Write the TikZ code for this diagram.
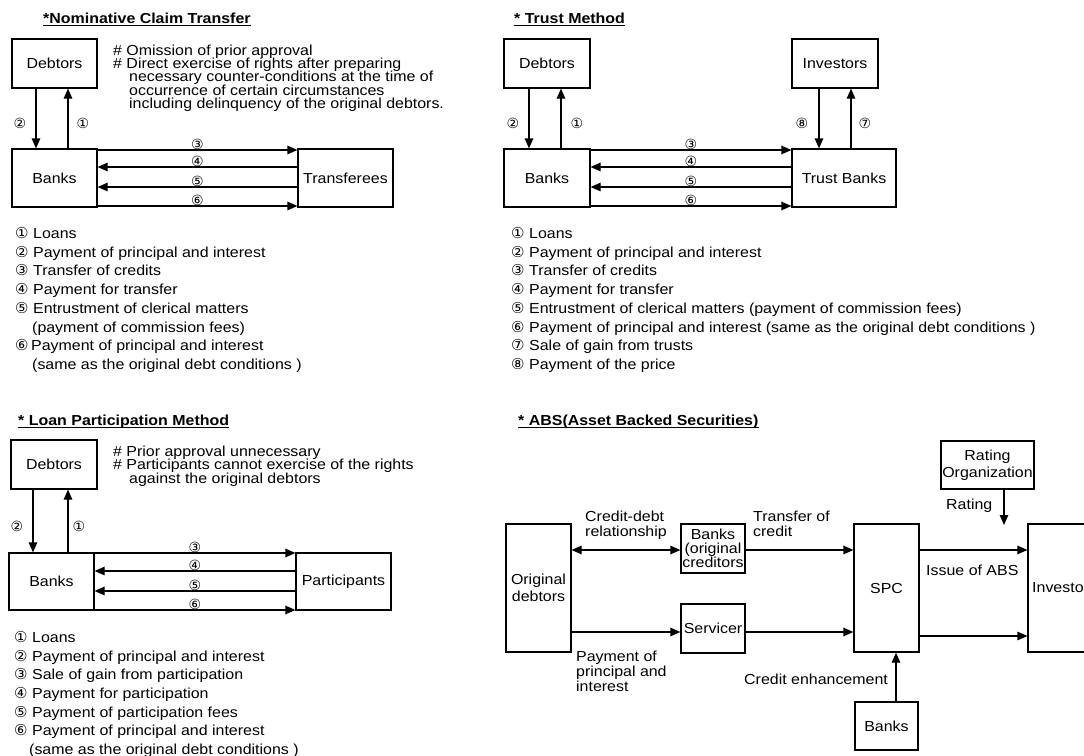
\documentclass[tikz,border=0pt]{standalone}
\usepackage{fontspec}
\setmainfont[FakeStretch=1.1]{Liberation Sans}
\newfontfamily\cnum{DejaVu Sans}
\usetikzlibrary{arrows.meta}
\newcommand\lf{\fontsize{14.5}{17}\selectfont}
\newcommand\legl[6]{\node[ln] (#1n) at (#2,#4) {#5}; \node[txt] (#1t) at (#3,#4) {#6};}
\begin{document}
\begin{tikzpicture}[x=1pt,y=-1pt,
  box/.style={draw, line width=1.2pt, inner sep=0pt, align=center, font=\lf},
  txt/.style={inner sep=0pt, anchor=base west, font=\lf},
  ttl/.style={inner sep=0pt, anchor=base west, font=\lf\bfseries},
  ul/.style={line width=1.3pt},
  arr/.style={line width=1.2pt, -{Triangle[length=10pt,width=8.5pt]}},
  darr/.style={line width=1.2pt, {Triangle[length=10pt,width=8.5pt]}-{Triangle[length=10pt,width=8.5pt]}},
  an/.style={inner sep=0pt, font=\cnum\fontsize{14}{14}\selectfont},
  ln/.style={inner sep=0pt, anchor=base west, font=\cnum\fontsize{15}{15}\selectfont}]
\useasboundingbox (0,0) rectangle (1084,755);
\clip (0,0) rectangle (1084,755);
\fill[white] (0,0) rectangle (1084,755);

% ================= Top-left: Nominative Claim Transfer
\node[ttl] (t1) at (43,23) {*Nominative Claim Transfer\ };
\draw[ul] ([yshift=-2.2pt]t1.base west) -- ([yshift=-2.2pt]t1.base east);
\node[box, minimum width=85pt, minimum height=49pt] (d1) at (54.5,63.5) {Debtors};
\node[box, minimum width=85pt, minimum height=58pt] (b1) at (54.5,178) {Banks};
\node[box, minimum width=95pt, minimum height=58pt] (tr1) at (345.5,178) {Transferees};
\node[txt] (n1a) at (113,55) {\# Omission of prior approval};
\node[txt] (n1b) at (113,68.3) {\# Direct exercise of rights after preparing};
\node[txt] (n1c) at (129,81.6) {necessary counter-conditions at the time of};
\node[txt] (n1d) at (129,95) {occurrence of certain circumstances};
\node[txt] (n1e) at (129,108.3) {including delinquency of the original debtors.};
\draw[arr] ([xshift=-18.5pt]d1.south) -- ([xshift=-18.5pt]d1.south |- b1.north);
\draw[arr] ([xshift=13.5pt]b1.north) -- ([xshift=13.5pt]b1.north |- d1.south);
\node[an] (l1b) at (20,123) {②};
\node[an] (l1a) at (83,123) {①};
\draw[arr] ([yshift=28pt]b1.east) -- ([yshift=28pt]b1.east -| tr1.west) node[an, midway, yshift=6pt] (l1c) {③};
\draw[arr] ([yshift=11pt]tr1.west) -- ([yshift=11pt]tr1.west -| b1.east) node[an, midway, yshift=6pt] (l1d) {④};
\draw[arr] ([yshift=-9pt]tr1.west) -- ([yshift=-9pt]tr1.west -| b1.east) node[an, midway, yshift=6pt] (l1e) {⑤};
\draw[arr] ([yshift=-28pt]b1.east) -- ([yshift=-28pt]b1.east -| tr1.west) node[an, midway, yshift=6pt] (l1f) {⑥};
\legl{la1}{15}{33}{238}{①}{Loans}
\legl{la2}{15}{33}{257}{②}{Payment of principal and interest}
\legl{la3}{15}{33}{275}{③}{Transfer of credits}
\legl{la4}{15}{33}{294}{④}{Payment for transfer}
\legl{la5}{15}{33}{313}{⑤}{Entrustment of clerical matters}
\node[txt] (la5b) at (32,332) {(payment of commission fees)};
\legl{la6}{15}{31}{350}{⑥}{Payment of principal and interest}
\node[txt] (la6b) at (32,369) {(same as the original debt conditions )};

% ================= Top-right: Trust Method
\node[ttl] (t2) at (514,23) {* Trust Method};
\draw[ul] ([yshift=-2.2pt]t2.base west) -- ([yshift=-2.2pt]t2.base east);
\node[box, minimum width=86pt, minimum height=49pt] (d2) at (547,63.5) {Debtors};
\node[box, minimum width=86pt, minimum height=58pt] (b2) at (547,178) {Banks};
\node[box, minimum width=86pt, minimum height=49pt] (i2) at (835,63.5) {Investors};
\node[box, minimum width=104pt, minimum height=58pt] (tb2) at (844,178) {Trust Banks};
\draw[arr] ([xshift=-18pt]d2.south) -- ([xshift=-18pt]d2.south |- b2.north);
\draw[arr] ([xshift=14pt]b2.north) -- ([xshift=14pt]b2.north |- d2.south);
\node[an] (l2b) at (513,123) {②};
\node[an] (l2a) at (577,123) {①};
\draw[arr] ([xshift=-16pt]i2.south) -- ([xshift=-16pt]i2.south |- tb2.north);
\draw[arr] ([xshift=7pt]tb2.north) -- ([xshift=7pt]tb2.north |- i2.south);
\node[an] (l2h) at (802,123) {⑧};
\node[an] (l2g) at (865,123) {⑦};
\draw[arr] ([yshift=28pt]b2.east) -- ([yshift=28pt]b2.east -| tb2.west) node[an, midway, yshift=6pt] (l2c) {③};
\draw[arr] ([yshift=11pt]tb2.west) -- ([yshift=11pt]tb2.west -| b2.east) node[an, midway, yshift=6pt] (l2d) {④};
\draw[arr] ([yshift=-9pt]tb2.west) -- ([yshift=-9pt]tb2.west -| b2.east) node[an, midway, yshift=6pt] (l2e) {⑤};
\draw[arr] ([yshift=-28pt]b2.east) -- ([yshift=-28pt]b2.east -| tb2.west) node[an, midway, yshift=6pt] (l2f) {⑥};
\legl{lb1}{511}{529}{238}{①}{Loans}
\legl{lb2}{511}{529}{257}{②}{Payment of principal and interest}
\legl{lb3}{511}{529}{275}{③}{Transfer of credits}
\legl{lb4}{511}{529}{294}{④}{Payment for transfer}
\legl{lb5}{511}{529}{313}{⑤}{Entrustment of clerical matters (payment of commission fees)}
\legl{lb6}{511}{529}{332}{⑥}{Payment of principal and interest (same as the original debt conditions )}
\legl{lb7}{511}{529}{350}{⑦}{Sale of gain from trusts}
\legl{lb8}{511}{529}{369}{⑧}{Payment of the price}

% ================= Bottom-left: Loan Participation Method
\node[ttl] (t3) at (18,425) {* Loan Participation Method};
\draw[ul] ([yshift=-2.5pt]t3.base west) -- ([yshift=-2.5pt]t3.base east);
\node[box, minimum width=86pt, minimum height=49pt] (d3) at (54,464.5) {Debtors};
\node[box, minimum width=85pt, minimum height=57pt] (b3) at (51.5,581.5) {Banks};
\node[box, minimum width=95pt, minimum height=57pt] (p3) at (343.5,581.5) {Participants};
\node[txt] (n3a) at (113,456) {\# Prior approval unnecessary};
\node[txt] (n3b) at (113,469.5) {\# Participants cannot exercise of the rights};
\node[txt] (n3c) at (129,483) {against the original debtors};
\draw[arr] ([xshift=-21pt]d3.south) -- ([xshift=-21pt]d3.south |- b3.north);
\draw[arr] ([xshift=16.5pt]b3.north) -- ([xshift=16.5pt]b3.north |- d3.south);
\node[an] (l3b) at (17,526) {②};
\node[an] (l3a) at (79,526) {①};
\draw[arr] ([yshift=28.5pt]b3.east) -- ([yshift=28.5pt]b3.east -| p3.west) node[an, midway, yshift=6pt] (l3c) {③};
\draw[arr] ([yshift=10.5pt]p3.west) -- ([yshift=10.5pt]p3.west -| b3.east) node[an, midway, yshift=6pt] (l3d) {④};
\draw[arr] ([yshift=-9.5pt]p3.west) -- ([yshift=-9.5pt]p3.west -| b3.east) node[an, midway, yshift=6pt] (l3e) {⑤};
\draw[arr] ([yshift=-28.5pt]b3.east) -- ([yshift=-28.5pt]b3.east -| p3.west) node[an, midway, yshift=6pt] (l3f) {⑥};
\legl{lc1}{14}{32}{642}{①}{Loans}
\legl{lc2}{14}{32}{661}{②}{Payment of principal and interest}
\legl{lc3}{14}{32}{679}{③}{Sale of gain from participation}
\legl{lc4}{14}{32}{698}{④}{Payment for participation}
\legl{lc5}{14}{32}{717}{⑤}{Payment of participation fees}
\legl{lc6}{14}{32}{735}{⑥}{Payment of principal and interest}
\node[txt] (lc6b) at (29,754) {(same as the original debt conditions )};

% ================= Bottom-right: ABS
\node[ttl] (t4) at (518,425) {* ABS(Asset Backed Securities)};
\draw[ul] ([yshift=-2.5pt]t4.base west) -- ([yshift=-2.5pt]t4.base east);
\node[box, minimum width=65pt, minimum height=128pt] (od) at (538.5,588) {Original\\debtors};
\node[box, minimum width=64pt, minimum height=49pt, font=\fontsize{14.5}{14}\selectfont] (bo) at (713,548.5) {Banks\\(original\\creditors};
\node[box, minimum width=64pt, minimum height=49pt] (sv) at (713,628.5) {Servicer};
\node[box, minimum width=65pt, minimum height=128pt] (spc) at (886.5,588) {SPC};
\node[box, minimum width=82pt, minimum height=128pt] (inv) at (1069,588) {};
\node[txt] (invt) at (1032,592) {Investors};
\node[box, minimum width=93pt, minimum height=48pt] (ro) at (987.5,465) {Rating\\Organization};
\node[box, minimum width=63pt, minimum height=48pt] (bk4) at (886.5,726) {Banks};
\coordinate (rtip) at (1004,525);
\draw[arr] (ro.south -| rtip) -- (rtip);
\node[txt] (rl) at (946,509) {Rating};
\draw[darr] ([yshift=-1.5pt]od.east |- bo.west) -- ([yshift=-1.5pt]bo.west);
\draw[arr] ([yshift=-1.5pt]bo.east) -- ([yshift=-1.5pt]spc.west |- bo.east);
\draw[arr] ([yshift=-1.5pt]spc.east |- bo.east) -- ([yshift=-1.5pt]inv.west |- bo.east);
\draw[arr] ([yshift=-3.5pt]od.east |- sv.west) -- ([yshift=-3.5pt]sv.west);
\draw[arr] ([yshift=-3.5pt]sv.east) -- ([yshift=-3.5pt]spc.west |- sv.east);
\draw[arr] ([yshift=-48pt]spc.east) -- ([yshift=-48pt]inv.west |- spc.east);
\draw[arr] ([xshift=9.5pt]bk4.north) -- ([xshift=9.5pt]bk4.north |- spc.south);
\node[txt] (cd1) at (585,521) {Credit-debt};
\node[txt] (cd2) at (585,536) {relationship};
\node[txt] (tc1) at (753,521) {Transfer of};
\node[txt] (tc2) at (753,536) {credit};
\node[txt] (ia) at (926,575) {Issue of ABS};
\node[txt] (pp1) at (576,661) {Payment of};
\node[txt] (pp2) at (576,676) {principal and};
\node[txt] (pp3) at (576,691) {interest};
\node[txt] (ce) at (744,684) {Credit enhancement};
\end{tikzpicture}
\end{document}
